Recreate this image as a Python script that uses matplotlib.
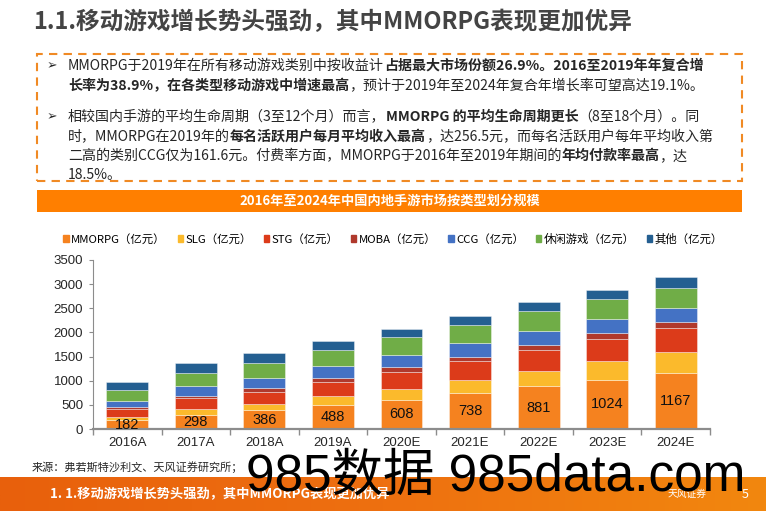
import matplotlib
matplotlib.use('Agg')
import matplotlib.pyplot as plt
from matplotlib.patches import Rectangle, Patch
import numpy as np

plt.rcParams['font.family'] = ['Noto Sans CJK SC', 'DejaVu Sans']

years = ['2016A', '2017A', '2018A', '2019A', '2020E', '2021E', '2022E', '2023E', '2024E']
mmorpg = [182, 298, 386, 488, 608, 738, 881, 1024, 1167]
slg = [73, 116, 125, 188, 227, 283, 327, 377, 420]
stg = [166, 221, 248, 290, 345, 380, 420, 462, 497]
moba = [28, 55, 83, 97, 97, 96, 118, 117, 124]
ccg = [131, 207, 221, 234, 262, 283, 290, 297, 297]
casual = [220, 269, 310, 338, 365, 380, 407, 414, 421]
other = [166, 200, 207, 187, 173, 186, 179, 193, 220]

series_names = ['MMORPG（亿元）', 'SLG（亿元）', 'STG（亿元）', 'MOBA（亿元）',
                'CCG（亿元）', '休闲游戏（亿元）', '其他（亿元）']
colors = ['#F5821F', '#FBBA2C', '#DC3B1A', '#B0392C', '#4472C4', '#70AD47', '#245F91']

title = '1.1.移动游戏增长势头强劲，其中MMORPG表现更加优异'
chart_title = '2016年至2024年中国内地手游市场按类型划分规模'
source = '来源：弗若斯特沙利文、天风证券研究所；'
footer = '1. 1.移动游戏增长势头强劲，其中MMORPG表现更加优异'

# bullet text, (text, bold) segments per line
lines = [
    [('MMORPG于2019年在所有移动游戏类别中按收益计', False), ('占据最大市场份额26.9%。2016至2019年年复合增', True)],
    [('长率为38.9%，在各类型移动游戏中增速最高', True), ('，预计于2019年至2024年复合年增长率可望高达19.1%。', False)],
    [('相较国内手游的平均生命周期（3至12个月）而言，', False), ('MMORPG 的平均生命周期更长', True), ('（8至18个月）。同', False)],
    [('时，MMORPG在2019年的', False), ('每名活跃用户每月平均收入最高', True), ('，达256.5元，而每名活跃用户每年平均收入第', False)],
    [('二高的类别CCG仅为161.6元。付费率方面，MMORPG于2016年至2019年期间的', False), ('年均付款率最高', True), ('，达', False)],
    [('18.5%。', False)],
]
line_y = [66, 86, 117, 137, 156, 175]
bullet_rows = [0, 2]

W, H = 766, 511
fig = plt.figure(figsize=(7.66, 5.11), dpi=100)
renderer = fig.canvas.get_renderer()

def fx(px):
    return px / W

def fy(py):
    return 1 - py / H

# title
fig.text(fx(33), fy(22), title, fontsize=17, fontweight='bold', color='#444444', va='center')

# dashed box
fig.patches.append(Rectangle((fx(37), fy(181)), fx(742) - fx(37), fy(54) - fy(181),
                             transform=fig.transFigure, fill=False, ec='#F08A24',
                             lw=1.5, ls=(0, (4, 3))))

for i, (parts, py) in enumerate(zip(lines, line_y)):
    if i in bullet_rows:
        fig.text(fx(47), fy(py), '➢', fontsize=9, color='#262626', va='center',
                 family=['DejaVu Sans'])
    x = fx(68)
    for txt, bold in parts:
        t = fig.text(x, fy(py), txt, fontsize=10.1, fontweight='bold' if bold else 'normal',
                     color='#262626', va='center', ha='left')
        x += t.get_window_extent(renderer).width / W

# chart header bar
fig.patches.append(Rectangle((fx(37), fy(212)), fx(742) - fx(37), fy(190) - fy(212),
                             transform=fig.transFigure, color='#FF7F00', lw=0))
fig.text(fx(390), fy(201), chart_title, fontsize=9.5, fontweight='bold', color='white',
         ha='center', va='center')

# chart
ax = fig.add_axes([fx(93), fy(429), fx(710) - fx(93), fy(260) - fy(429)])
x = np.arange(len(years))
data = [mmorpg, slg, stg, moba, ccg, casual, other]
bottom = np.zeros(len(years))
for vals, c in zip(data, colors):
    ax.bar(x, vals, 0.61, bottom=bottom, color=c, edgecolor=(1, 1, 1, 0.45), linewidth=0.6)
    bottom += np.array(vals)

for xi, v in zip(x, mmorpg):
    ax.text(xi, v / 2, str(v), ha='center', va='center', fontsize=10.5,
            family=['Liberation Sans'], color='#111111')

ax.set_xlim(-0.5, len(years) - 0.5)
ax.set_ylim(0, 3500)
ax.set_yticks(np.arange(0, 3501, 500))
ax.set_xticks(x)
ax.set_xticklabels(years)
ax.set_xticks(np.arange(-0.5, len(years)), minor=True)
ax.tick_params(axis='x', which='major', length=0, pad=6)
ax.tick_params(axis='x', which='minor', length=4, color='#8C8C8C', width=1)
ax.tick_params(axis='y', length=3, color='#8C8C8C', pad=4)
for lab in ax.get_xticklabels() + ax.get_yticklabels():
    lab.set_family(['Liberation Sans'])
    lab.set_fontsize(9.5)
    lab.set_color('#262626')
ax.spines['top'].set_visible(False)
ax.spines['right'].set_visible(False)
ax.spines['left'].set_color('#8C8C8C')
ax.spines['left'].set_linewidth(0.8)
ax.spines['bottom'].set_color('#8C8C8C')
ax.spines['bottom'].set_linewidth(1.6)

handles = [Patch(color=c) for c in colors]
fig.legend(handles, series_names, loc='center', bbox_to_anchor=(fx(393), fy(239)),
           ncol=7, frameon=False, fontsize=8.2, handlelength=0.5, handleheight=0.5,
           handletextpad=0.2, columnspacing=1.05, borderaxespad=0)

fig.text(fx(32), fy(467), source, fontsize=8, color='#262626', va='center')

# footer band
grad = np.linspace(0, 1, 256).reshape(1, -1)
fax = fig.add_axes([0, 0, 1, fy(477)])
fax.imshow(grad, aspect='auto', extent=[0, 1, 0, 1],
           cmap=matplotlib.colors.LinearSegmentedColormap.from_list('f', ['#E8600C', '#EE7010', '#F2870E']))
fax.set_axis_off()
fig.text(fx(50), fy(494), footer, fontsize=9.5, fontweight='bold', color='white', va='center')
fig.text(fx(668), fy(494), '天风证券', fontsize=7, color='white', va='center')
fig.text(fx(742), fy(494), '5', fontsize=9, color='white', va='center')

# watermark
fig.text(fx(246), fy(477), '985数据 985data.com', fontsize=37, color='black', va='center',
         family=['Liberation Sans', 'Noto Sans CJK SC'])

fig.savefig('out.png', dpi=100)
